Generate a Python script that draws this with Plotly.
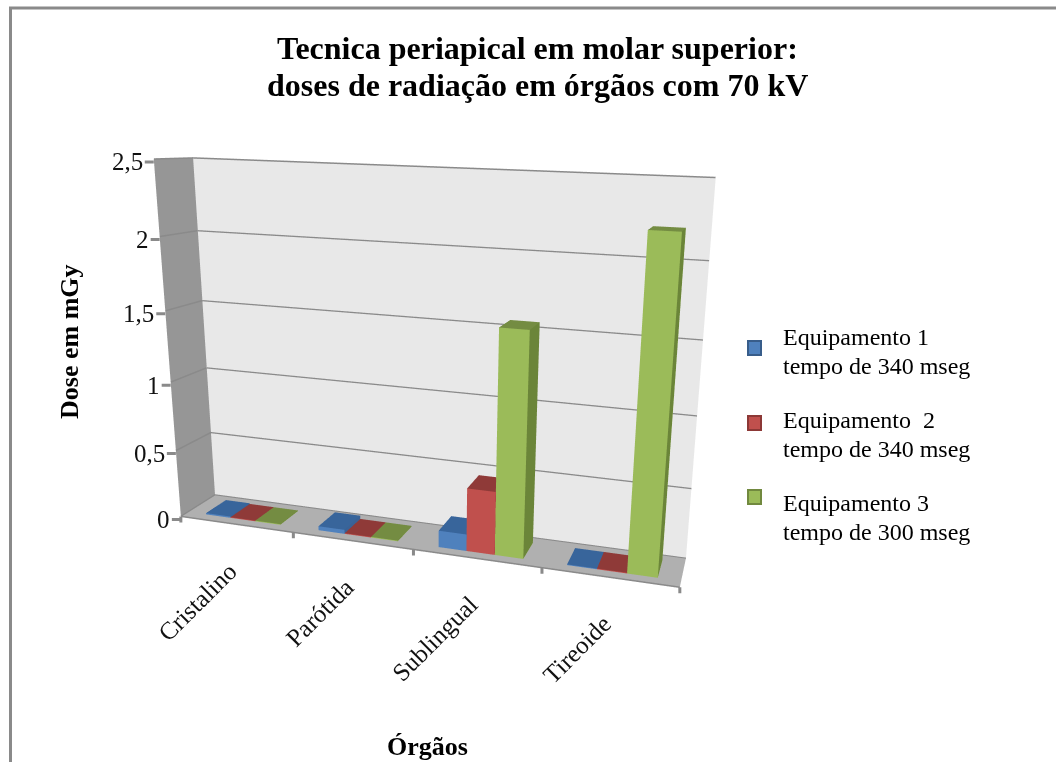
import plotly.graph_objects as go

# Chart data
categories = ["Cristalino", "Parótida", "Sublingual", "Tireoide"]
series_names = ["Equipamento 1", "Equipamento\u00a0 2", "Equipamento 3"]
series_times = ["tempo de 340 mseg", "tempo de 340 mseg", "tempo de 300 mseg"]
equip1 = [0.01, 0.03, 0.12, 0.005]
equip2 = [0.005, 0.005, 0.45, 0.005]
equip3 = [0.005, 0.005, 1.55, 2.2]
value_ticks = [0, 0.5, 1, 1.5, 2, 2.5]
value_labels = ["0", "0,5", "1", "1,5", "2", "2,5"]
title_lines = ["Tecnica periapical em molar superior:", "doses de radiação em órgãos com 70 kV"]

# Face shades per series
front = ["#4f81bd", "#c0504d", "#9bbb59"]
top = ["#38659b", "#8f3a38", "#748c42"]
side = ["#3a6295", "#8e3a38", "#6b8539"]
edge = ["#385d8a", "#8c3836", "#71893f"]
GRAY = "#8a8a8a"
SERIF = "Liberation Serif"
W_PX, H_PX = 1056, 762

# Bar footprint in axis units
BAR_W = 1 / 4.5
BAR_Y0, BAR_Y1 = 0.2, 0.8


def box(x0, x1, y0, y1, h, cf, ct, cs):
    """One column as a mesh with flat, unlit faces."""
    xs = [x0, x1, x1, x0, x0, x1, x1, x0]
    ys = [y0, y0, y1, y1, y0, y0, y1, y1]
    zs = [0, 0, 0, 0, h, h, h, h]
    i = [0, 0, 4, 4, 1, 1, 0, 0, 3, 3, 2, 2]
    j = [1, 2, 5, 6, 2, 6, 1, 5, 2, 6, 3, 7]
    k = [2, 3, 6, 7, 6, 5, 5, 4, 6, 7, 7, 6]
    fc = [cf, cf, ct, ct, cs, cs, cf, cf, cf, cf, cs, cs]
    return go.Mesh3d(
        x=xs, y=ys, z=zs, i=i, j=j, k=k, facecolor=fc, flatshading=True,
        lighting=dict(ambient=1, diffuse=0, specular=0, fresnel=0, roughness=1),
        hoverinfo="skip", showscale=False,
    )


fig = go.Figure()
for s, vals in enumerate([equip1, equip2, equip3]):
    for c, v in enumerate(vals):
        x0 = c + BAR_W * 0.75 + s * BAR_W
        fig.add_trace(box(x0, x0 + BAR_W, BAR_Y0, BAR_Y1, v, front[s], top[s], side[s]))

# Gridlines on both walls plus the floor's front edge
gx, gy, gz = [], [], []
for v in value_ticks:
    gx += [0, 0, len(categories), None]
    gy += [0, 1, 1, None]
    gz += [v, v, v, None]
gx += [0, len(categories)]
gy += [0, 0]
gz += [0, 0]
fig.add_trace(go.Scatter3d(x=gx, y=gy, z=gz, mode="lines", line=dict(color=GRAY, width=3),
                           hoverinfo="skip", showlegend=False))

axis = dict(showgrid=False, zeroline=False, showspikes=False, showticklabels=False, title="",
            showline=False, showbackground=True, ticks="")
tick = dict(showarrow=True, arrowhead=0, arrowwidth=3, arrowcolor=GRAY)

# Value labels with their tick marks, category ticks, slanted category names
scene_notes = [
    dict(x=0, y=0, z=v, text=t, ax=-9, ay=0, xanchor="right", yanchor="middle", yshift=-3,
         font=dict(family=SERIF, size=25, color="#111"), **tick)
    for v, t in zip(value_ticks, value_labels)
]
scene_notes += [dict(x=i, y=0, z=0, text=" ", ax=0, ay=8, font=dict(size=1), **tick)
                for i in range(len(categories) + 1)]
scene_notes += [
    dict(x=i + 0.5, y=0, z=0, text=t, textangle=-45, showarrow=False, xanchor="right", yanchor="top",
         xshift=9, yshift=-30, font=dict(family=SERIF, size=25, color="#111"))
    for i, t in enumerate(categories)
]


def page(x, y, text, size, bold=False, xanchor="center", **kw):
    """Text placed by page pixel position."""
    return dict(xref="paper", yref="paper", x=x / W_PX, y=1 - y / H_PX, xanchor=xanchor, yanchor="middle",
                text=f"<b>{text}</b>" if bold else text, showarrow=False,
                font=dict(family=SERIF, size=size, color="#000"), **kw)


notes = [
    page(537, 48, title_lines[0], 32, True),
    page(537, 85, title_lines[1], 32, True),
    page(69, 342, "Dose em mGy", 26, True, textangle=-90),
    page(427, 746, "Órgãos", 26, True),
]

# Chart-area border: top and left edges only
shapes = [
    dict(type="line", xref="paper", yref="paper", x0=9 / W_PX, x1=1, y0=1 - 8 / H_PX, y1=1 - 8 / H_PX,
         line=dict(color=GRAY, width=3)),
    dict(type="line", xref="paper", yref="paper", x0=10.5 / W_PX, x1=10.5 / W_PX, y0=0, y1=1 - 8 / H_PX,
         line=dict(color=GRAY, width=3)),
]

# Legend: swatch and two lines of text per series
for s, (y_swatch, y_text) in enumerate(zip([348, 423, 497], [337, 420, 503])):
    shapes.append(dict(type="rect", xref="paper", yref="paper", x0=748 / W_PX, x1=761 / W_PX,
                       y0=1 - (y_swatch - 7) / H_PX, y1=1 - (y_swatch + 7) / H_PX,
                       fillcolor=front[s], line=dict(color=edge[s], width=2)))
    notes.append(page(781, y_text, series_names[s], 24, xanchor="left"))
    notes.append(page(781, y_text + 29, series_times[s], 24, xanchor="left"))

fig.update_layout(
    width=W_PX, height=H_PX, margin=dict(l=0, r=0, t=0, b=0), paper_bgcolor="white",
    showlegend=False, shapes=shapes, annotations=notes,
    scene=dict(
        domain=dict(x=[0, 1], y=[0, 1]),
        aspectmode="manual",
        aspectratio=dict(x=1, y=0.121, z=0.7013),
        bgcolor="rgba(0,0,0,0)",
        dragmode="orbit",
        camera=dict(
            eye=dict(x=0.5897, y=-1.5571, z=0.4114),
            center=dict(x=0.1861, y=0.0499, z=-0.0316),
            up=dict(x=-0.0902, y=0.2436, z=0.9657),
        ),
        xaxis=dict(axis, range=[0, len(categories)], backgroundcolor="#969696"),
        yaxis=dict(axis, range=[0, 1], backgroundcolor="#e8e8e8"),
        zaxis=dict(axis, range=[0, 2.5], backgroundcolor="#b0b0b0"),
        annotations=scene_notes,
    ),
)
fig.write_html("out.html")
